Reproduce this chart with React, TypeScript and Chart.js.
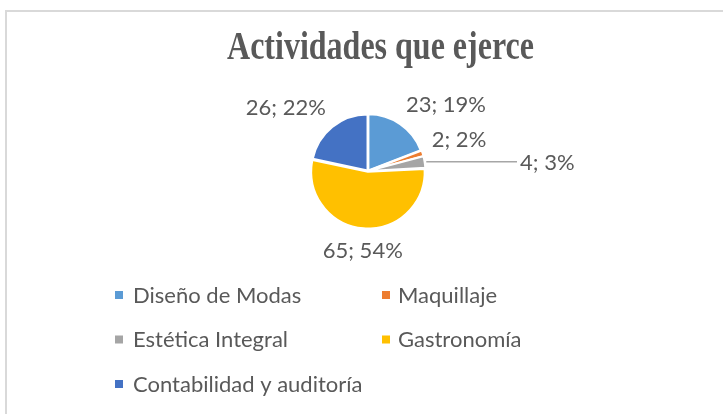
import React, { useEffect, useRef } from "react";
import { Chart, registerables } from "chart.js";

Chart.register(...registerables);

const titleText = "Actividades que ejerce";
const categories = [
  "Diseño de Modas",
  "Maquillaje",
  "Estética Integral",
  "Gastronomía",
  "Contabilidad y auditoría",
];
const values = [23, 2, 4, 65, 26];
const colors = ["#5B9BD5", "#ED7D31", "#A5A5A5", "#FFC000", "#4472C4"];
const leaderLabels = [false, false, true, false, false];

const TEXT = "#595959";
const FONT_FAMILY = "Lato, 'Open Sans', sans-serif";

export default function App() {
  const ref = useRef<HTMLCanvasElement>(null);

  useEffect(() => {
    document.body.style.margin = "0";
    const canvas = ref.current!;
    const total = values.reduce((a, b) => a + b, 0);

    const decor = {
      id: "decor",
      beforeDraw(chart: any) {
        const ctx = chart.ctx as CanvasRenderingContext2D;
        ctx.save();
        ctx.fillStyle = "#ffffff";
        ctx.fillRect(0, 0, chart.width, chart.height);
        ctx.strokeStyle = "#D9D9D9";
        ctx.lineWidth = 2;
        ctx.beginPath();
        ctx.moveTo(6, chart.height);
        ctx.lineTo(6, 11);
        ctx.lineTo(chart.width, 11);
        ctx.stroke();
        ctx.fillStyle = TEXT;
        ctx.font = "bold 32px 'Liberation Serif', 'Times New Roman', serif";
        ctx.textAlign = "center";
        ctx.textBaseline = "alphabetic";
        ctx.translate(380.5, 59);
        ctx.scale(1, 1.25);
        ctx.fillText(titleText, 0, 0);
        ctx.restore();
      },
      afterDatasetsDraw(chart: any) {
        const ctx = chart.ctx as CanvasRenderingContext2D;
        const meta = chart.getDatasetMeta(0);
        const ds = chart.data.datasets[0];
        const off = ds.offset || 0;
        ctx.save();
        ctx.font = `22px ${FONT_FAMILY}`;
        ctx.fillStyle = TEXT;
        ctx.textBaseline = "alphabetic";
        const capH = 16;
        const clamp = (t: number) => Math.max(-1, Math.min(1, t));
        meta.data.forEach((arc: any, i: number) => {
          const p = arc.getProps(["x", "y", "startAngle", "endAngle", "outerRadius"], true);
          const mid = (p.startAngle + p.endAngle) / 2;
          const v = values[i];
          const text = `${v}; ${Math.round((v / total) * 100)}%`;
          const w = ctx.measureText(text).width;
          const cos = Math.cos(mid);
          const sin = Math.sin(mid);
          if (leaderLabels[i]) {
            const r0 = p.outerRadius + off;
            const sx = p.x + cos * r0;
            const sy = p.y + sin * r0;
            const ex = p.x + p.outerRadius + 93;
            ctx.strokeStyle = "#A6A6A6";
            ctx.lineWidth = 1.5;
            ctx.beginPath();
            ctx.moveTo(sx, sy);
            ctx.lineTo(ex, sy);
            ctx.stroke();
            ctx.textAlign = "left";
            ctx.fillText(text, ex + 3, sy + capH / 2);
            return;
          }
          const r = p.outerRadius + off + 8;
          const ax = p.x + cos * r;
          const ay = p.y + sin * r;
          const hx = Math.abs(cos) < 0.12 ? 0 : clamp(3 * cos);
          const cx = ax + (w / 2) * hx;
          const cy = ay + (capH / 2 + 4) * clamp(3 * sin);
          ctx.textAlign = "center";
          ctx.fillText(text, cx, cy + capH / 2);
        });
        ctx.restore();
      },
      afterDraw(chart: any) {
        const ctx = chart.ctx as CanvasRenderingContext2D;
        ctx.save();
        ctx.font = `22px ${FONT_FAMILY}`;
        ctx.textAlign = "left";
        ctx.textBaseline = "alphabetic";
        const markerX = [115, 382];
        const textX = [133, 398];
        categories.forEach((label, i) => {
          const col = i % 2;
          const row = Math.floor(i / 2);
          const y = 295 + row * 44.5;
          ctx.fillStyle = colors[i];
          ctx.fillRect(markerX[col], y - 4, 8, 8);
          ctx.fillStyle = TEXT;
          ctx.fillText(label, textX[col], y + 7.5);
        });
        ctx.restore();
      },
    };

    const chart = new Chart(canvas, {
      type: "pie",
      data: {
        labels: categories,
        datasets: [
          {
            data: values,
            backgroundColor: colors,
            borderColor: "#ffffff",
            borderWidth: 2,
            offset: 3,
            radius: 56,
          } as any,
        ],
      },
      options: {
        responsive: false,
        animation: false,
        devicePixelRatio: 1,
        layout: { padding: { left: 268, right: 255, top: 71, bottom: 143 } },
        plugins: {
          legend: { display: false },
          title: { display: false },
          tooltip: { enabled: false },
        },
      },
      plugins: [decor],
    });

    return () => chart.destroy();
  }, []);

  return (
    <div style={{ width: 723, height: 414 }}>
      <canvas ref={ref} width={723} height={414} style={{ display: "block" }} />
    </div>
  );
}
